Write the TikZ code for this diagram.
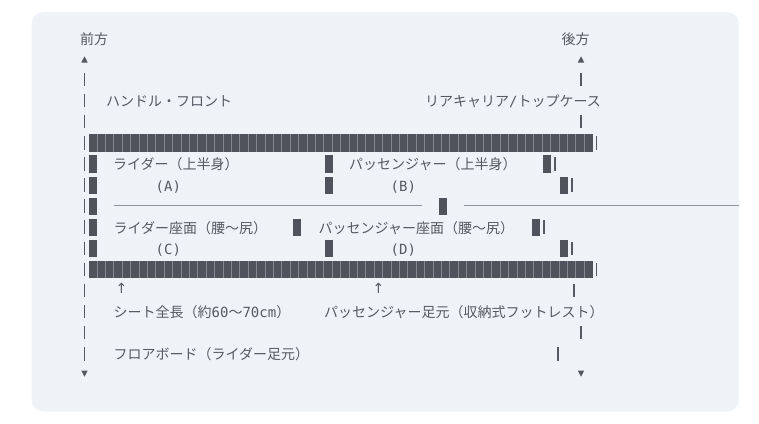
\documentclass[tikz,border=0pt]{standalone}
\usepackage{fontspec}
\newfontfamily\jp{Noto Sans CJK JP}
\newfontfamily\mono{DejaVu Sans Mono}
\newfontfamily\djv{DejaVu Sans}
\definecolor{panel}{HTML}{EFF2F7}
\definecolor{txt}{HTML}{555961}
\definecolor{blkc}{HTML}{50535B}
\definecolor{sepc}{HTML}{858891}
\definecolor{rulec}{HTML}{8E9197}
\tikzset{
  lbl/.style={anchor=base west, inner sep=0pt, text=txt, font=\jp\fontsize{14}{14}\selectfont},
  arr/.style={anchor=center, inner sep=0pt, text=txt, font=\djv\fontsize{14}{14}\selectfont},
  bar/.style={draw=txt, line width=1.2pt},
  blkfill/.style={fill=blkc},
  sepline/.style={draw=sepc, line width=0.5pt},
  rulel/.style={draw=rulec, line width=1pt},
  tri/.style={fill=txt}
}
\newcommand{\vbar}[2]{\draw[bar] (#1,#2-7) -- (#1,#2+6.5);}
\newcommand{\oneblk}[2]{\fill[blkfill] (#1,#2-8.7) rectangle ++(8.4,17.4);}
\begin{document}
\begin{tikzpicture}[x=1pt,y=-1pt]
\useasboundingbox (0,0) rectangle (759,423);
\fill[white] (0,0) rectangle (759,423);
\begin{scope}
\fill[panel, rounded corners=12pt] (31.5,12) rectangle (739,411.5);
\clip[rounded corners=12pt] (31.5,12) rectangle (739,411.5);
% row 8 rules
\coordinate (r8a) at (114,205.8);
\coordinate (r8b) at (422,205.8);
\coordinate (r8c) at (464,205.8);
\coordinate (r8d) at (760,205.8);
\draw[rulel] (r8a) -- (r8b);
\draw[rulel] (r8c) -- (r8d);
\end{scope}
% left axis
\node[lbl] (front) at (80,44) {前方};
\node[lbl] (rear) at (561.5,44) {後方};
\fill[tri] (81.3,62.5) -- (87.7,62.5) -- (84.5,56.3) -- cycle;
\fill[tri] (577.8,62.5) -- (584.2,62.5) -- (581,56.3) -- cycle;
\fill[tri] (81.3,370.5) -- (87.7,370.5) -- (84.5,376.7) -- cycle;
\fill[tri] (577.8,370.5) -- (584.2,370.5) -- (581,376.7) -- cycle;
\foreach \y in {79.7,100.8,121.9,143.0,164.1,185.2,206.3,227.4,248.5,269.6,290.7,311.8,332.9,354.0} {\vbar{84.5}{\y}}
% right side bars
\vbar{581}{79.7}
\vbar{581}{121.9}
\vbar{596.7}{143.0}
\vbar{555}{164.1}
\vbar{572}{185.2}
\vbar{544}{227.4}
\vbar{572}{248.5}
\vbar{596.7}{269.6}
\vbar{574}{290.7}
\vbar{581}{332.9}
\vbar{558}{354.0}
% long block rows
\foreach \y in {143.0,269.6} {
  \fill[blkfill] (88.5,\y-8.7) rectangle (592.5,\y+8.7);
  \foreach \i in {1,...,59} {\draw[sepline] (88.5+8.4*\i,\y-8.7) -- (88.5+8.4*\i,\y+8.7);}
}
% single blocks
\foreach \y in {164.1,185.2,206.3,227.4,248.5} {\oneblk{88.5}{\y}}
\oneblk{324.5}{164.1}
\oneblk{324.5}{185.2}
\oneblk{439}{206.3}
\oneblk{293}{227.4}
\oneblk{324.5}{248.5}
\oneblk{543}{164.1}
\oneblk{559.5}{185.2}
\oneblk{531.5}{227.4}
\oneblk{559.5}{248.5}
% labels
\node[lbl] (handle) at (106,106.6) {ハンドル・フロント};
\node[lbl] (carrier) at (425,106.6) {リアキャリア{\mono /}トップケース};
\node[lbl] (riderU) at (113,169.9) {ライダー（上半身）};
\node[lbl] (passU) at (349,169.9) {パッセンジャー（上半身）};
\node[lbl] (A) at (155.5,191.2) {\mono (A)};
\node[lbl] (B) at (390.5,191.2) {\mono (B)};
\node[lbl] (riderS) at (113.5,233.2) {ライダー座面（腰〜尻）};
\node[lbl] (passS) at (318.5,233.2) {パッセンジャー座面（腰〜尻）};
\node[lbl] (C) at (155.5,254.5) {\mono (C)};
\node[lbl] (D) at (390.5,254.5) {\mono (D)};
\node[arr] (up1) at (121.5,288.5) {↑};
\node[arr] (up2) at (378.5,288.5) {↑};
\node[lbl] (seat) at (113.5,317.2) {シート全長（約{\mono 60}〜{\mono 70cm}）};
\node[lbl] (pfoot) at (324,317.2) {パッセンジャー足元（収納式フットレスト）};
\node[lbl] (floor) at (113.5,359.6) {フロアボード（ライダー足元）};
\end{tikzpicture}
\end{document}
